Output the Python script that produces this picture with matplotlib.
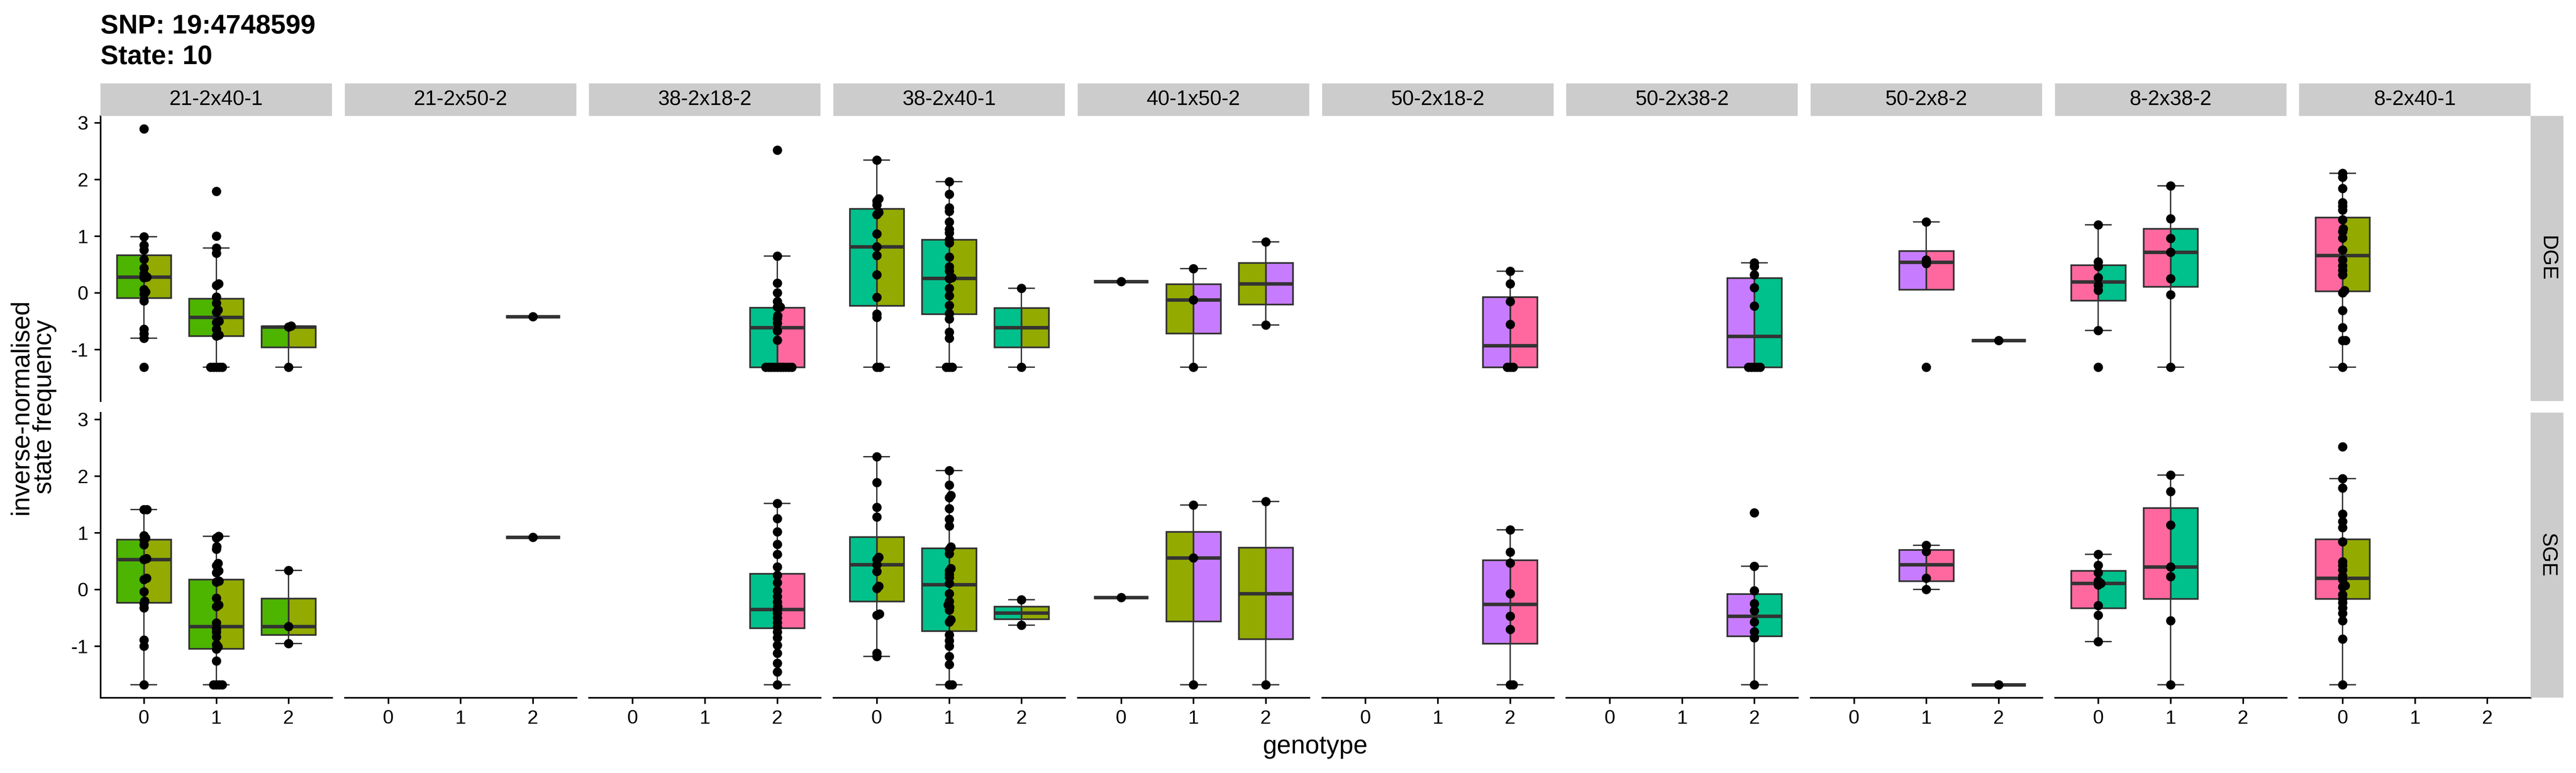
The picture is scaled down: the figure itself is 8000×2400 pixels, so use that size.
import math
import matplotlib
matplotlib.use("Agg")
import matplotlib.pyplot as plt

plt.rcParams['font.family'] = ['Liberation Sans', 'DejaVu Sans']

# ---------------- data ----------------
title_snp = "SNP: 19:4748599"
title_state = "State: 10"
crosses = ["21-2x40-1", "21-2x50-2", "38-2x18-2", "38-2x40-1", "40-1x50-2",
           "50-2x18-2", "50-2x38-2", "50-2x8-2", "8-2x38-2", "8-2x40-1"]
rows = ["DGE", "SGE"]
genotypes = ["0", "1", "2"]
parent_colours = {"21-2": "#4DB400", "40-1": "#93AA00", "38-2": "#00C08B",
                  "18-2": "#FF689F", "8-2": "#FF689F", "50-2": "#C77CFF"}

# points per cross: [genotype0, genotype1, genotype2]
dge_points = {
    "21-2x40-1": [[2.89, 0.99, 0.84, 0.76, 0.59, 0.44, 0.34, 0.28, 0.27, 0.06, 0.02, -0.02, -0.14, -0.64, -0.72, -0.80, -1.31],
                  [1.79, 1.00, 0.79, 0.70, 0.16, 0.13, -0.07, -0.18, -0.30, -0.34, -0.50, -0.52, -0.64, -0.74, -0.76,
                   -1.31, -1.31, -1.31, -1.31, -1.31],
                  [-0.58, -0.60, -1.31]],
    "21-2x50-2": [[], [], [-0.42]],
    "38-2x18-2": [[], [], [2.52, 0.65, 0.17, 0.00, -0.15, -0.25, -0.25, -0.40, -0.45, -0.53, -0.67, -0.83,
                           -1.31, -1.31, -1.31, -1.31, -1.31, -1.31, -1.31, -1.31, -1.31, -1.31]],
    "38-2x40-1": [[2.34, 1.66, 1.62, 1.55, 1.42, 1.38, 1.04, 0.815, 0.66, 0.32, -0.08, -0.37, -0.43, -1.31, -1.31],
                  [1.96, 1.74, 1.50, 1.44, 1.25, 1.12, 1.06, 0.94, 0.88, 0.63, 0.46, 0.39, 0.27, 0.25, 0.08, -0.05,
                   -0.22, -0.36, -0.46, -0.69, -0.80, -1.31, -1.31, -1.31],
                  [0.08, -1.31]],
    "40-1x50-2": [[0.20], [0.43, -0.12, -1.31], [0.90, -0.565]],
    "50-2x18-2": [[], [], [0.38, 0.16, -0.15, -0.555, -1.31, -1.31, -1.31]],
    "50-2x38-2": [[], [], [0.53, 0.47, 0.32, 0.095, -0.23, -1.31, -1.31, -1.31, -1.31, -1.31]],
    "50-2x8-2": [[], [1.25, 0.58, 0.52, -1.31], [-0.84]],
    "8-2x38-2": [[1.20, 0.55, 0.47, 0.27, 0.13, 0.05, -0.66, -1.31],
                 [1.89, 1.31, 0.96, 0.72, 0.25, -0.03, -1.31], []],
    "8-2x40-1": [[2.11, 2.04, 1.84, 1.59, 1.53, 1.46, 1.29, 1.13, 1.08, 0.97, 0.76, 0.58, 0.48, 0.40, 0.32,
                  0.04, 0.00, -0.31, -0.61, -0.84, -0.84, -1.31], [], []],
}
sge_points = {
    "21-2x40-1": [[1.41, 1.41, 0.95, 0.91, 0.87, 0.79, 0.55, 0.53, 0.20, 0.18, -0.04, -0.20, -0.25, -0.32, -0.89, -1.00, -1.68],
                  [0.94, 0.91, 0.76, 0.71, 0.46, 0.42, 0.33, 0.30, 0.15, 0.13, -0.15, -0.27, -0.30, -0.59, -0.69,
                   -0.75, -0.83, -0.97, -1.01, -1.05, -1.26, -1.68, -1.68, -1.68, -1.68],
                  [0.34, -0.65, -0.95]],
    "21-2x50-2": [[], [], [0.92]],
    "38-2x18-2": [[], [], [1.52, 1.25, 1.02, 0.80, 0.62, 0.40, 0.25, 0.12, -0.02, -0.12, -0.22, -0.30, -0.35, -0.42,
                           -0.50, -0.58, -0.66, -0.75, -0.85, -0.98, -1.12, -1.30, -1.45, -1.68]],
    "38-2x40-1": [[2.34, 1.89, 1.45, 1.28, 0.57, 0.53, 0.44, 0.32, 0.06, 0.02, -0.43, -0.45, -1.12, -1.18],
                  [2.10, 1.84, 1.66, 1.62, 1.43, 1.24, 1.12, 0.75, 0.71, 0.63, 0.37, 0.33, 0.27, 0.21, 0.11, -0.07,
                   -0.21, -0.27, -0.31, -0.36, -0.53, -0.57, -0.80, -0.90, -1.00, -1.18, -1.32, -1.68, -1.68],
                  [-0.18, -0.63]],
    "40-1x50-2": [[-0.14], [1.49, 0.56, -1.68], [1.55, -1.68]],
    "50-2x18-2": [[], [], [1.05, 0.66, 0.47, -0.07, -0.47, -0.70, -1.68, -1.68]],
    "50-2x38-2": [[], [], [1.355, 0.41, -0.02, -0.25, -0.37, -0.57, -0.74, -0.85, -1.68]],
    "50-2x8-2": [[], [0.78, 0.67, 0.20, 0.00], [-1.68]],
    "8-2x38-2": [[0.62, 0.43, 0.30, 0.15, 0.11, 0.08, -0.28, -0.45, -0.92],
                 [2.02, 1.73, 1.14, 0.40, 0.23, -0.55, -1.68], []],
    "8-2x40-1": [[2.52, 1.955, 1.79, 1.33, 1.20, 1.09, 0.84, 0.49, 0.43, 0.35, 0.24, 0.18, 0.07, 0.05, -0.09,
                  -0.16, -0.23, -0.32, -0.42, -0.55, -0.875, -1.68], [], []],
}

# box statistics per genotype: [lower whisker, q1, median, q3, upper whisker]
dge_boxes = {
    "21-2x40-1": [[-0.80, -0.09, 0.28, 0.667, 0.99], [-1.31, -0.76, -0.43, -0.10, 0.79], [-1.31, -0.955, -0.60, -0.59, -0.58]],
    "21-2x50-2": [None, None, [-0.42, -0.42, -0.42, -0.42, -0.42]],
    "38-2x18-2": [None, None, [-1.31, -1.31, -0.61, -0.26, 0.65]],
    "38-2x40-1": [[-1.31, -0.225, 0.815, 1.485, 2.34], [-1.31, -0.37, 0.26, 0.94, 1.96], [-1.31, -0.955, -0.61, -0.265, 0.08]],
    "40-1x50-2": [[0.20, 0.20, 0.20, 0.20, 0.20], [-1.31, -0.715, -0.12, 0.155, 0.43], [-0.565, -0.20, 0.16, 0.53, 0.90]],
    "50-2x18-2": [None, None, [-1.31, -1.31, -0.93, -0.07, 0.38]],
    "50-2x38-2": [None, None, [-1.31, -1.31, -0.765, 0.265, 0.53]],
    "50-2x8-2": [None, [0.06, 0.06, 0.54, 0.74, 1.25], [-0.84, -0.84, -0.84, -0.84, -0.84]],
    "8-2x38-2": [[-0.66, -0.135, 0.195, 0.49, 1.20], [-1.31, 0.11, 0.72, 1.135, 1.89], None],
    "8-2x40-1": [[-1.31, 0.03, 0.66, 1.33, 2.11], None, None],
}
sge_boxes = {
    "21-2x40-1": [[-1.68, -0.23, 0.53, 0.88, 1.41], [-1.68, -1.04, -0.65, 0.18, 0.94], [-0.95, -0.80, -0.65, -0.155, 0.34]],
    "21-2x50-2": [None, None, [0.92, 0.92, 0.92, 0.92, 0.92]],
    "38-2x18-2": [None, None, [-1.68, -0.68, -0.35, 0.28, 1.52]],
    "38-2x40-1": [[-1.18, -0.21, 0.44, 0.93, 2.34], [-1.68, -0.73, 0.09, 0.73, 2.10], [-0.63, -0.52, -0.41, -0.30, -0.18]],
    "40-1x50-2": [[-0.14, -0.14, -0.14, -0.14, -0.14], [-1.68, -0.56, 0.56, 1.02, 1.49], [-1.68, -0.87, -0.07, 0.74, 1.55]],
    "50-2x18-2": [None, None, [-1.68, -0.95, -0.26, 0.52, 1.05]],
    "50-2x38-2": [None, None, [-1.68, -0.82, -0.47, -0.08, 0.41]],
    "50-2x8-2": [None, [0.00, 0.15, 0.44, 0.70, 0.78], [-1.68, -1.68, -1.68, -1.68, -1.68]],
    "8-2x38-2": [[-0.92, -0.33, 0.11, 0.33, 0.62], [-1.68, -0.16, 0.40, 1.44, 2.02], None],
    "8-2x40-1": [[-1.68, -0.165, 0.20, 0.89, 1.955], None, None],
}
y_ticks = [-1, 0, 1, 2, 3]

# ---------------- layout ----------------
W, H = 8000, 2400
fig = plt.figure(figsize=(W / 300, H / 300), dpi=300)
fig.patch.set_facecolor("white")

panel_left0, panel_w, panel_step = 312, 719, 758.7
row_tops = [360, 1281]
panel_h = 885
ylim = (-1.906, 3.12)
xlim = (-0.6, 2.6)
ppx = panel_w / (xlim[1] - xlim[0])
ppy = panel_h / (ylim[1] - ylim[0])
box_w = 0.75
cap_w = 0.37
dark = "#333333"
strip_col = "#CCCCCC"


def fx(x):
    return x / W


def fy(y):
    return 1 - y / H


def swarm(vals, d_px=9.0):
    n = len(vals)
    order = sorted(range(n), key=lambda i: vals[i])
    placed = []
    offs = [0.0] * n
    for i in order:
        y = vals[i] * ppy
        cands = [0.0]
        for (px, py) in placed:
            dy = abs(py - y)
            if dy < d_px:
                dx = math.sqrt(d_px ** 2 - dy ** 2)
                cands += [px + dx, px - dx]
        for c in sorted(cands, key=abs):
            if all((c - px) ** 2 + (y - py) ** 2 >= d_px ** 2 - 1e-6 for (px, py) in placed):
                break
        placed.append((c, y))
        offs[i] = c / ppx
    return offs


for r, (row, pts_all, box_all) in enumerate(zip(rows, [dge_points, sge_points], [dge_boxes, sge_boxes])):
    top = row_tops[r]
    for c, cross in enumerate(crosses):
        left = panel_left0 + c * panel_step
        ax = fig.add_axes([fx(left), fy(top + panel_h), panel_w / W, panel_h / H])
        ax.set_xlim(*xlim)
        ax.set_ylim(*ylim)
        ax.set_facecolor("white")
        for s in ["top", "right"]:
            ax.spines[s].set_visible(False)
        ax.spines["left"].set_visible(c == 0)
        ax.spines["bottom"].set_visible(r == 1)
        for s in ["left", "bottom"]:
            ax.spines[s].set_linewidth(1.2)
            ax.spines[s].set_color("black")
        ax.tick_params(axis="both", length=4.6, width=1.2, color="black", labelsize=14.5, pad=4.5)
        if c == 0:
            ax.set_yticks(y_ticks)
            ax.set_yticklabels([str(t) for t in y_ticks])
        else:
            ax.set_yticks([])
        if r == 1:
            ax.set_xticks(range(len(genotypes)))
            ax.set_xticklabels(genotypes)
        else:
            ax.set_xticks([])

        pa, pb = cross.split("x")
        ca, cb = parent_colours[pa], parent_colours[pb]
        boxes = box_all[cross]
        pts = pts_all[cross]
        for g in range(3):
            st = boxes[g]
            if st is not None:
                wl, q1, med, q3, wh = st
                ax.vlines(g, q3, wh, color=dark, lw=1.0, zorder=2)
                ax.vlines(g, wl, q1, color=dark, lw=1.0, zorder=2)
                if wh > q3:
                    ax.hlines(wh, g - cap_w / 2, g + cap_w / 2, color=dark, lw=1.0, zorder=2)
                if wl < q1:
                    ax.hlines(wl, g - cap_w / 2, g + cap_w / 2, color=dark, lw=1.0, zorder=2)
                ax.bar(g - box_w / 4, q3 - q1, width=box_w / 2, bottom=q1, color=ca,
                       edgecolor=dark, linewidth=1.25, zorder=3)
                ax.bar(g + box_w / 4, q3 - q1, width=box_w / 2, bottom=q1, color=cb,
                       edgecolor=dark, linewidth=1.25, zorder=3)
                ax.hlines(med, g - box_w / 2, g + box_w / 2, color=dark, lw=2.6, zorder=4)
            vals = pts[g]
            if vals:
                offs = swarm(vals)
                ax.scatter([g + o for o in offs], vals, s=48, color="black", linewidths=0, zorder=5)

        # column strips
        if r == 0:
            sax = fig.add_axes([fx(left), fy(top), panel_w / W, 101 / H])
            sax.set_facecolor(strip_col)
            sax.set_xticks([])
            sax.set_yticks([])
            for s in sax.spines.values():
                s.set_visible(False)
            sax.text(0.5, 0.5, cross, ha="center", va="center", fontsize=15.5, transform=sax.transAxes)
        # row strips
        if c == len(crosses) - 1:
            rax = fig.add_axes([fx(left + panel_w), fy(top + panel_h), 102 / W, panel_h / H])
            rax.set_facecolor(strip_col)
            rax.set_xticks([])
            rax.set_yticks([])
            for s in rax.spines.values():
                s.set_visible(False)
            rax.text(0.5, 0.5, row, ha="center", va="center", rotation=-90, fontsize=15.5,
                     transform=rax.transAxes)

# titles and axis labels
fig.text(fx(312), fy(104), title_snp, ha="left", va="baseline", fontsize=20, fontweight="bold")
fig.text(fx(312), fy(199), title_state, ha="left", va="baseline", fontsize=20, fontweight="bold")
fig.text(fx(4085), fy(2318), "genotype", ha="center", va="center", fontsize=19)
fig.text(fx(102), fy(1263), "inverse-normalised\nstate frequency", ha="center", va="center",
         rotation=90, fontsize=19, linespacing=0.95)

fig.savefig("out.png", dpi=300, facecolor="white")
